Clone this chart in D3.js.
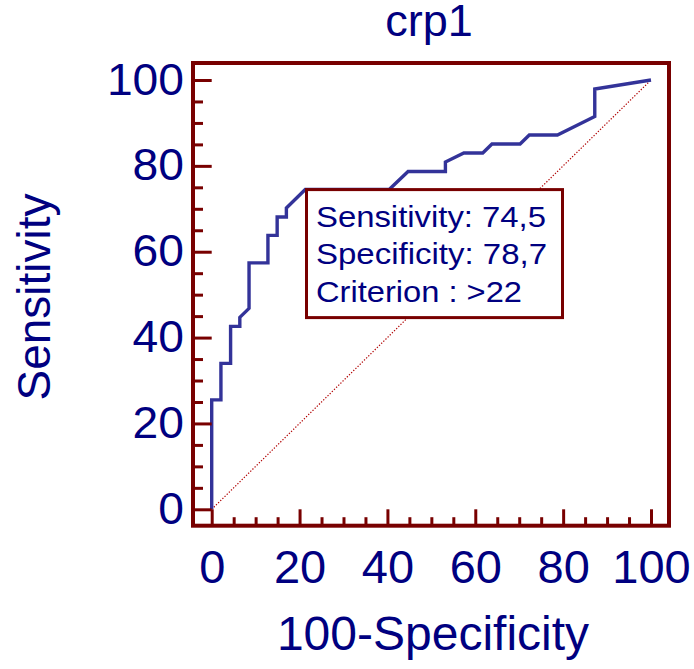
<!DOCTYPE html>
<html>
<head>
<meta charset="utf-8">
<script src="https://cdn.jsdelivr.net/npm/d3@7"></script>
<style>
html,body{margin:0;padding:0;background:#fff;}
svg{display:block;font-family:"Liberation Sans",Arial,sans-serif;}
</style>
</head>
<body>
<svg id="chart" width="694" height="669"></svg>
<script>
// ---- data ----
const chartTitle = "crp1";
const xTitle = "100-Specificity";
const yTitle = "Sensitivity";
const fpr = [0, 0, 2.1, 2.1, 4.3, 4.3, 6.4, 6.4, 8.5, 8.5, 12.8, 12.8, 14.9, 14.9, 17.0, 17.0, 21.3, 40.4, 44.7, 53.2, 53.2, 57.4, 61.7, 63.8, 70.2, 72.3, 78.7, 87.2, 87.2, 100];
const tpr = [0, 25.5, 25.5, 34.0, 34.0, 42.6, 42.6, 44.7, 46.8, 57.4, 57.4, 63.8, 63.8, 68.1, 68.1, 70.2, 74.5, 74.5, 78.7, 78.7, 80.9, 83.0, 83.0, 85.1, 85.1, 87.2, 87.2, 91.5, 97.9, 100];
const majorTicks = [0, 20, 40, 60, 80, 100];
const minorTicks = [5, 10, 15, 25, 30, 35, 45, 50, 55, 65, 70, 75, 85, 90, 95];
const infoLines = ["Sensitivity: 74,5", "Specificity: 78,7", "Criterion : >22"];

// ---- layout ----
const maroon = "#780000";
const navy = "#000080";
const curveColor = "#333399";
const svg = d3.select("#chart");

const x = d3.scaleLinear().domain([0, 100]).range([211.7, 651]);
const y = d3.scaleLinear().domain([0, 100]).range([509.3, 80]);

const frame = {x0: 193, y0: 63, x1: 669, y1: 525.7};

// diagonal reference line
svg.append("line")
  .attr("x1", x(0)).attr("y1", y(0))
  .attr("x2", x(100)).attr("y2", y(100))
  .attr("stroke", "#b00000").attr("stroke-width", 1.2)
  .attr("stroke-dasharray", "1.3,1.7");

// ROC curve
const pts = fpr.map((v, i) => [v, tpr[i]]);
svg.append("path")
  .datum(pts)
  .attr("fill", "none")
  .attr("stroke", curveColor)
  .attr("stroke-width", 3.4)
  .attr("stroke-linejoin", "miter")
  .attr("d", d3.line().x(d => x(d[0])).y(d => y(d[1])));

// info box
const box = svg.append("g");
box.append("rect")
  .attr("x", 306.5).attr("y", 189.6)
  .attr("width", 256).attr("height", 128)
  .attr("fill", "#fff").attr("stroke", maroon).attr("stroke-width", 3);
const baselines = [227.3, 263.5, 301.7];
const widths = [230, 231, 206];
infoLines.forEach((t, i) => {
  box.append("text")
    .attr("x", 316).attr("y", baselines[i])
    .attr("font-size", 29)
    .attr("fill", navy)
    .attr("textLength", widths[i])
    .attr("lengthAdjust", "spacingAndGlyphs")
    .text(t);
});

// frame
svg.append("rect")
  .attr("x", frame.x0).attr("y", frame.y0)
  .attr("width", frame.x1 - frame.x0).attr("height", frame.y1 - frame.y0)
  .attr("fill", "none").attr("stroke", maroon).attr("stroke-width", 4);

// x axis (ticks pointing inward)
const gxMinor = svg.append("g").attr("transform", `translate(0,${frame.y1})`)
  .call(d3.axisBottom(x).tickValues(minorTicks).tickSize(-8.5).tickFormat(""));
const gx = svg.append("g").attr("transform", `translate(0,${frame.y1})`)
  .call(d3.axisBottom(x).tickValues(majorTicks).tickSize(-16.4).tickPadding(22).tickFormat(d3.format("d")));
[gxMinor, gx].forEach(g => {
  g.select(".domain").remove();
  g.selectAll(".tick line").attr("stroke", maroon).attr("stroke-width", 3);
});
gx.selectAll(".tick text")
  .attr("font-size", 47).attr("fill", navy)
  .attr("font-family", "Liberation Sans, Arial, sans-serif")
  .attr("y", 0).attr("dy", 0)
  .attr("transform", "translate(0,57)");

// y axis (ticks pointing inward)
const gyMinor = svg.append("g").attr("transform", `translate(${frame.x0},0)`)
  .call(d3.axisLeft(y).tickValues(minorTicks).tickSize(-10).tickFormat(""));
const gy = svg.append("g").attr("transform", `translate(${frame.x0},0)`)
  .call(d3.axisLeft(y).tickValues(majorTicks).tickSize(-18.7).tickPadding(11).tickFormat(d3.format("d")));
[gyMinor, gy].forEach(g => {
  g.select(".domain").remove();
  g.selectAll(".tick line").attr("stroke", maroon).attr("stroke-width", 3);
});
gy.selectAll(".tick text")
  .attr("font-size", 44).attr("fill", navy)
  .attr("font-family", "Liberation Sans, Arial, sans-serif")
  .attr("x", 0).attr("dy", 0)
  .attr("transform", "translate(-9,14) scale(1.05,1)");

// titles
svg.append("text")
  .attr("x", 429).attr("y", 36)
  .attr("text-anchor", "middle")
  .attr("font-size", 45).attr("fill", navy)
  .text(chartTitle);

svg.append("text")
  .attr("x", 433).attr("y", 650)
  .attr("text-anchor", "middle")
  .attr("font-size", 48).attr("fill", navy)
  .text(xTitle);

svg.append("text")
  .attr("transform", "translate(50,297) rotate(-90)")
  .attr("text-anchor", "middle")
  .attr("font-size", 46).attr("fill", navy)
  .text(yTitle);
</script>
</body>
</html>
